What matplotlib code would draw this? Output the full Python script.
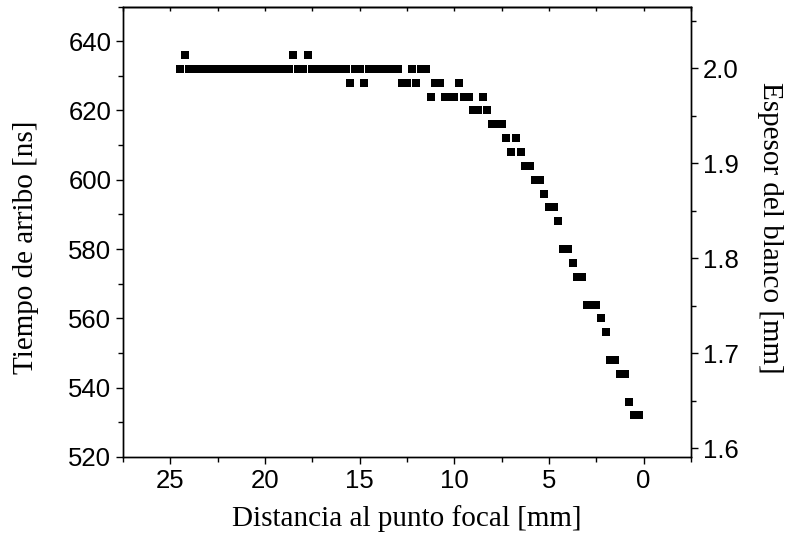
import matplotlib.pyplot as plt
from matplotlib.ticker import MultipleLocator

# distance to the focal point [mm] and measured arrival time [ns]
distancia = [
    24.50, 24.25, 24.00, 23.75, 23.50, 23.25, 23.00, 22.75, 22.50, 22.25,
    22.00, 21.75, 21.50, 21.25, 21.00, 20.75, 20.50, 20.25, 20.00, 19.75,
    19.50, 19.25, 19.00, 18.75, 18.50, 18.25, 18.00, 17.75, 17.50, 17.25,
    17.00, 16.75, 16.50, 16.25, 16.00, 15.75, 15.50, 15.25, 15.00, 14.75,
    14.50, 14.25, 14.00, 13.75, 13.50, 13.25, 13.00, 12.75, 12.50, 12.25,
    12.00, 11.75, 11.50, 11.25, 11.00, 10.75, 10.50, 10.25, 10.00, 9.75,
    9.50, 9.25, 9.00, 8.75, 8.50, 8.25, 8.00, 7.75, 7.50, 7.25,
    7.00, 6.75, 6.50, 6.25, 6.00, 5.75, 5.50, 5.25, 5.00, 4.75,
    4.50, 4.25, 4.00, 3.75, 3.50, 3.25, 3.00, 2.75, 2.50, 2.25,
    2.00, 1.75, 1.50, 1.25, 1.00, 0.75, 0.50, 0.25,
]
tiempo = [
    632, 636, 632, 632, 632, 632, 632, 632, 632, 632,
    632, 632, 632, 632, 632, 632, 632, 632, 632, 632,
    632, 632, 632, 632, 636, 632, 632, 636, 632, 632,
    632, 632, 632, 632, 632, 632, 628, 632, 632, 628,
    632, 632, 632, 632, 632, 632, 632, 628, 628, 632,
    628, 632, 632, 624, 628, 628, 624, 624, 624, 628,
    624, 624, 620, 620, 624, 620, 616, 616, 616, 612,
    608, 612, 608, 604, 604, 600, 600, 596, 592, 592,
    588, 580, 580, 576, 572, 572, 564, 564, 564, 560,
    556, 548, 548, 544, 544, 536, 532, 532,
]

plt.rcParams['font.family'] = 'Liberation Sans'
plt.rcParams['axes.linewidth'] = 1.0

fig = plt.figure(figsize=(7.87, 5.33), dpi=100)
ax = fig.add_axes([0.1565, 0.1426, 0.7214, 0.8452])

ax.plot(distancia, tiempo, 's', color='black', markersize=5.6, markeredgewidth=0)

ax.set_xlim(27.5, -2.5)
ax.set_ylim(520, 650)
ax.xaxis.set_major_locator(MultipleLocator(5))
ax.xaxis.set_minor_locator(MultipleLocator(2.5))
ax.yaxis.set_major_locator(MultipleLocator(20))
ax.yaxis.set_minor_locator(MultipleLocator(10))
ax.tick_params(which='both', direction='out', width=1.0, labelsize=18.5, top=False)
ax.tick_params(which='major', length=5)
ax.tick_params(which='minor', length=3.5)

serif = {'family': 'Liberation Serif', 'size': 21}
ax.set_xlabel('Distancia al punto focal [mm]', fontdict=serif, labelpad=9)
ax.set_ylabel('Tiempo de arribo [ns]', fontdict=serif)
ax.yaxis.set_label_coords(-0.149, 0.465)

# small inward ticks along the top edge
top = ax.secondary_xaxis('top')
top.xaxis.set_major_locator(MultipleLocator(2.5))
top.tick_params(direction='in', length=3, width=1.0, labeltop=False)

# target thickness scale on the right
ax2 = ax.twinx()
ax2.set_ylim(1.591, 2.065)
ax2.yaxis.set_major_locator(MultipleLocator(0.1))
ax2.yaxis.set_minor_locator(MultipleLocator(0.05))
ax2.tick_params(which='both', direction='out', width=1.0, labelsize=18.5)
ax2.tick_params(which='major', length=5)
ax2.tick_params(which='minor', length=3.5)
ax2.set_ylabel('Espesor del blanco [mm]', fontdict=serif, rotation=270)
ax2.yaxis.set_label_coords(1.162, 0.508)

fig.savefig('out.png', dpi=100)
